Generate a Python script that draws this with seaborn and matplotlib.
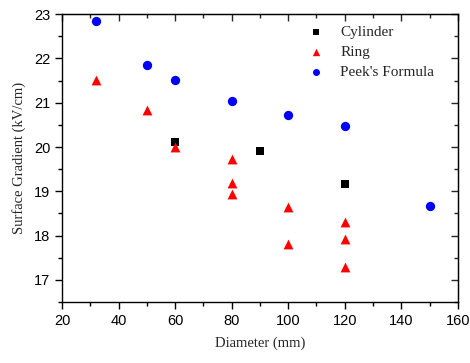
import matplotlib
matplotlib.use("Agg")
import matplotlib.pyplot as plt
import pandas as pd
import seaborn as sns
from matplotlib.ticker import MultipleLocator

# data
cyl_diameter = [60, 90, 120]
cyl_gradient = [20.12, 19.90, 19.17]

ring_diameter = [32, 50, 60, 80, 80, 80, 100, 100, 120, 120, 120]
ring_gradient = [21.52, 20.83, 20.00, 19.73, 19.18, 18.95, 18.65, 17.82, 18.30, 17.93, 17.30]

peek_diameter = [32, 50, 60, 80, 100, 120, 150]
peek_gradient = [22.85, 21.85, 21.52, 21.03, 20.72, 20.47, 18.67]

series = ["Cylinder", "Ring", "Peek's Formula"]

data = pd.concat(
    [
        pd.DataFrame({"diameter": cyl_diameter, "gradient": cyl_gradient, "series": series[0]}),
        pd.DataFrame({"diameter": ring_diameter, "gradient": ring_gradient, "series": series[1]}),
        pd.DataFrame({"diameter": peek_diameter, "gradient": peek_gradient, "series": series[2]}),
    ],
    ignore_index=True,
)

sns.set_style("ticks")
plt.rcParams["font.family"] = ["Liberation Sans", "DejaVu Sans"]

fig = plt.figure(figsize=(4.7, 3.63), dpi=100)
ax = fig.add_axes([0.132, 0.168, 0.842, 0.793])

colors = {"Cylinder": "black", "Ring": "#ff0000", "Peek's Formula": "#0000ff"}
markers = {"Cylinder": "s", "Ring": "^", "Peek's Formula": "o"}
sizes = {"Cylinder": 34, "Ring": 50, "Peek's Formula": 45}

for name in series:
    sub = data[data["series"] == name]
    sns.scatterplot(
        x=sub["diameter"],
        y=sub["gradient"],
        color=colors[name],
        marker=markers[name],
        s=sizes[name],
        linewidth=0,
        label=name,
        ax=ax,
    )

ax.set_xlim(20, 160)
ax.set_ylim(16.5, 23)
ax.xaxis.set_major_locator(MultipleLocator(20))
ax.xaxis.set_minor_locator(MultipleLocator(10))
ax.yaxis.set_major_locator(MultipleLocator(1))
ax.yaxis.set_minor_locator(MultipleLocator(0.5))

for side in ax.spines.values():
    side.set_visible(True)
    side.set_linewidth(1.0)
    side.set_color("black")

ax.tick_params(which="both", direction="out", top=False, right=False,
               labelsize=10.5, colors="black", width=1.0)
ax.tick_params(which="major", length=5)
ax.tick_params(which="minor", length=3)

# mirrored inward ticks on the top and right
sec_x = ax.secondary_xaxis("top")
sec_x.xaxis.set_major_locator(MultipleLocator(20))
sec_x.xaxis.set_minor_locator(MultipleLocator(10))
sec_x.tick_params(which="both", direction="in", labeltop=False, width=1.0)
sec_x.tick_params(which="major", length=5)
sec_x.tick_params(which="minor", length=3)
sec_y = ax.secondary_yaxis("right")
sec_y.yaxis.set_major_locator(MultipleLocator(1))
sec_y.yaxis.set_minor_locator(MultipleLocator(0.5))
sec_y.tick_params(which="both", direction="in", labelright=False, width=1.0)
sec_y.tick_params(which="major", length=5)
sec_y.tick_params(which="minor", length=3)

ax.set_xlabel("Diameter (mm)", family="Liberation Serif", fontsize=10.5, labelpad=6)
ax.set_ylabel("Surface Gradient (kV/cm)", family="Liberation Serif", fontsize=10.5, labelpad=6)

leg = ax.legend(
    loc="upper right",
    frameon=False,
    prop={"family": "Liberation Serif", "size": 11},
    handletextpad=0.6,
    labelspacing=0.42,
    bbox_to_anchor=(0.975, 1.01),
    markerscale=0.75,
)

fig.savefig("out.png", dpi=100)
plt.close()
